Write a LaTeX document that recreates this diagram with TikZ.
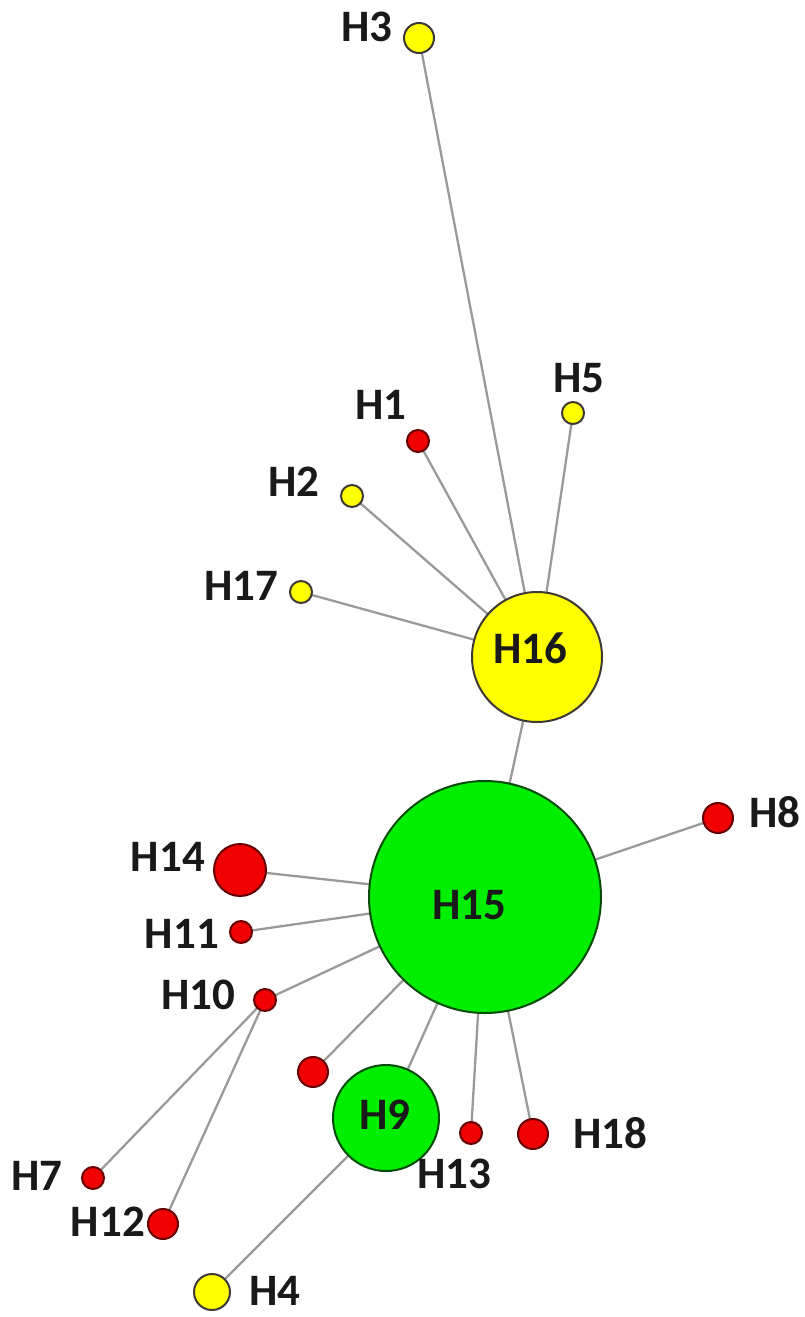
\documentclass[tikz,border=0pt]{standalone}
\usepackage{fontspec}
\setmainfont{Carlito}
\usetikzlibrary{backgrounds}
\definecolor{hapyellow}{HTML}{FFFF00}
\definecolor{hapred}{HTML}{F00000}
\definecolor{hapgreen}{HTML}{00EE00}
\definecolor{edgegray}{HTML}{9A9A9A}
\tikzset{
  hap/.style={circle, inner sep=0pt, line width=2pt, minimum size=#1},
  yel/.style={hap=#1, fill=hapyellow, draw=black!80!yellow!60!black},
  rd/.style={hap=#1, fill=hapred, draw=red!40!black},
  grn/.style={hap=#1, fill=hapgreen, draw=green!30!black},
  lbl/.style={font=\fontsize{45}{45}\selectfont\bfseries, inner sep=0pt, text=black!90},
  link/.style={draw=edgegray, line width=2.3pt}
}
\begin{document}
\begin{tikzpicture}[x=1pt, y=-1pt]
\useasboundingbox (0,0) rectangle (805,1317);
% haplotype circles
\node[yel=30pt] (H3) at (419,38) {};
\node[yel=22pt] (H5) at (573,413) {};
\node[rd=22pt] (H1) at (418,441) {};
\node[yel=22pt] (H2) at (352,496) {};
\node[yel=22pt] (H17) at (301,592) {};
\node[yel=130pt] (H16) at (537,657) {};
\node[grn=232pt] (H15) at (485,897) {};
\node[rd=30pt] (H8) at (718,818) {};
\node[rd=52pt] (H14) at (240,870) {};
\node[rd=22pt] (H11) at (241,932) {};
\node[rd=22pt] (H10) at (265,1000) {};
\node[rd=30pt] (Hx) at (313,1072) {};
\node[grn=106pt] (H9) at (386,1118) {};
\node[rd=22pt] (H13) at (471,1133) {};
\node[rd=30pt] (H18) at (533,1134) {};
\node[rd=22pt] (H7) at (93,1178) {};
\node[rd=30pt] (H12) at (163,1224) {};
\node[yel=36pt] (H4) at (212,1292) {};
% labels
\node[lbl] (lH3) at (367,27) {H3};
\node[lbl] (lH5) at (579,378) {H5};
\node[lbl] (lH1) at (381,405) {H1};
\node[lbl] (lH2) at (294,482) {H2};
\node[lbl] (lH17) at (241,586) {H17};
\node[lbl] (lH16) at (530,648) {H16};
\node[lbl] (lH15) at (469,905) {H15};
\node[lbl] (lH8) at (775,812) {H8};
\node[lbl] (lH14) at (168,857) {H14};
\node[lbl] (lH11) at (182,934) {H11};
\node[lbl] (lH10) at (198,995) {H10};
\node[lbl] (lH9) at (385,1115) {H9};
\node[lbl] (lH13) at (454,1174) {H13};
\node[lbl] (lH18) at (610,1133) {H18};
\node[lbl] (lH7) at (37,1176) {H7};
\node[lbl] (lH12) at (108,1222) {H12};
\node[lbl] (lH4) at (275,1291) {H4};
% links
\begin{pgfonlayer}{background}
\foreach \a/\b in {H3/H16, H5/H16, H1/H16, H2/H16, H17/H16, H16/H15,
                   H8/H15, H14/H15, H11/H15, H10/H15, Hx/H15, H9/H15,
                   H13/H15, H18/H15, H7/H10, H12/H10, H4/H9}
  \draw[link] (\a.center) -- (\b.center);
\end{pgfonlayer}
\end{tikzpicture}
\end{document}
